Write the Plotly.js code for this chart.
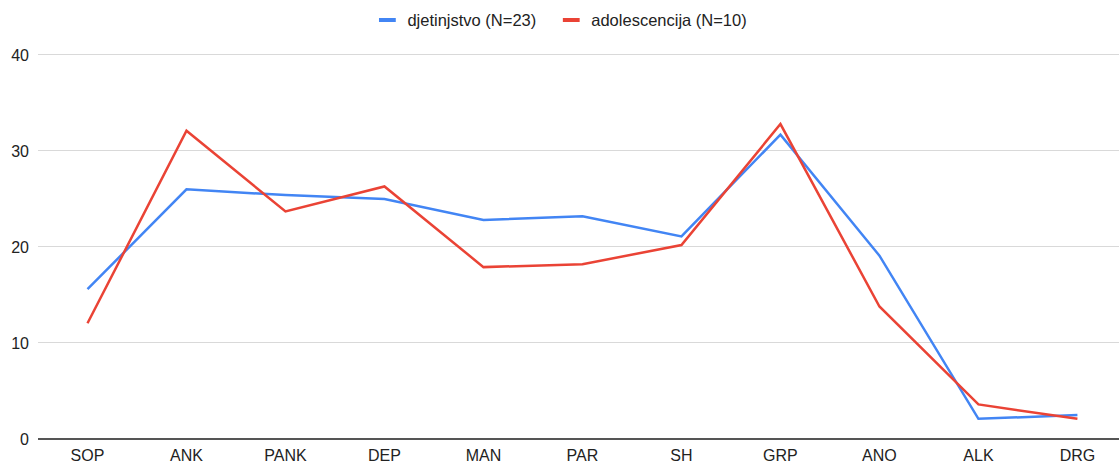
<!DOCTYPE html>
<html>
<head>
<meta charset="utf-8">
<script src="https://cdn.plot.ly/plotly-3.0.1.min.js"></script>
<style>html,body{margin:0;padding:0;background:#fff;}#chart{width:1119px;height:464px;}</style>
</head>
<body>
<div id="chart"></div>
<script>
const categories = ["SOP","ANK","PANK","DEP","MAN","PAR","SH","GRP","ANO","ALK","DRG"];
const seriesNames = ["djetinjstvo (N=23)", "adolescencija (N=10)"];
const childhood = [15.6, 26.0, 25.4, 25.0, 22.8, 23.2, 21.1, 31.7, 19.1, 2.1, 2.5];
const adolescence = [12.05, 32.1, 23.7, 26.3, 17.9, 18.2, 20.2, 32.8, 13.8, 3.6, 2.1];
const yTicks = [0, 10, 20, 30, 40];

const blue = "#4285F4", red = "#EA4335";
const traces = [
  {x: categories, y: childhood, type: "scatter", mode: "lines", line: {color: blue, width: 2.5}, showlegend: false, hoverinfo: "x+y"},
  {x: categories, y: adolescence, type: "scatter", mode: "lines", line: {color: red, width: 2.5}, showlegend: false, hoverinfo: "x+y"},
  {x: [null], y: [null], type: "scatter", mode: "markers", name: seriesNames[0], legend: "legend", marker: {symbol: "line-ew-open", size: 12, color: blue, line: {color: blue, width: 4}}},
  {x: [null], y: [null], type: "scatter", mode: "markers", name: seriesNames[1], legend: "legend2", marker: {symbol: "line-ew-open", size: 12, color: red, line: {color: red, width: 4}}}
];
const font = {family: "Liberation Sans, Arial, sans-serif", size: 16, color: "#222"};
const legendFont = {family: "Liberation Sans, Arial, sans-serif", size: 16.5, color: "#222"};
const legBase = {orientation: "h", xanchor: "left", y: 1.085, yanchor: "middle", font: legendFont, bgcolor: "rgba(0,0,0,0)"};
const layout = {
  width: 1119, height: 464,
  margin: {l: 37.5, r: 0, t: 53, b: 25, autoexpand: false},
  paper_bgcolor: "#fff", plot_bgcolor: "#fff",
  font: font,
  showlegend: true,
  legend: Object.assign({}, legBase, {x: 0.3047}),
  legend2: Object.assign({}, legBase, {x: 0.4748}),
  xaxis: {type: "category", range: [-0.5, 10.42], showgrid: false, zeroline: false, showline: false, ticks: "", tickfont: font, ticklabelstandoff: 5, fixedrange: true},
  yaxis: {range: [0, 40.2], tickvals: yTicks, ticktext: yTicks.map(String), showgrid: true, gridcolor: "#d9d9d9", gridwidth: 1, zeroline: true, zerolinecolor: "#555", zerolinewidth: 1.5, showline: false, ticks: "", tickfont: font, ticklabelstandoff: 8, fixedrange: true}
};
Plotly.newPlot("chart", traces, layout, {displayModeBar: false, staticPlot: true});
</script>
</body>
</html>
